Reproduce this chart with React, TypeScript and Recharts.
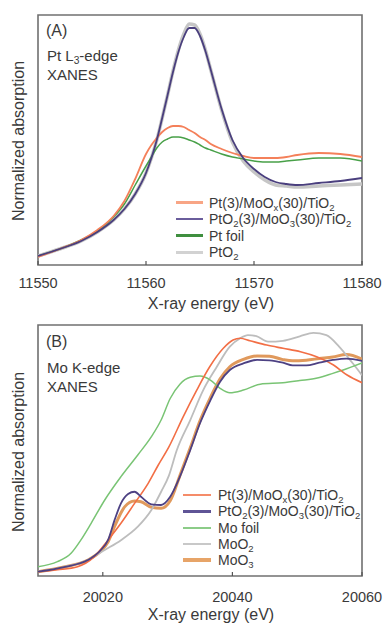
import React from 'react';
import { LineChart, Line, XAxis, YAxis, ReferenceArea } from 'recharts';

// ---------- Panel A: Pt L3-edge ----------
const energyA = [11550, 11552, 11554, 11555.5, 11557, 11558, 11559, 11560, 11560.5, 11561, 11561.5, 11562, 11562.5, 11563, 11563.5, 11564, 11564.5, 11565, 11565.5, 11566, 11567, 11568, 11569, 11570, 11571, 11572, 11573, 11574, 11576, 11578, 11580];
const ptMoOxA = [0.08, 0.16, 0.25, 0.35, 0.49, 0.64, 0.86, 1.11, 1.20, 1.27, 1.33, 1.37, 1.39, 1.39, 1.38, 1.35, 1.32, 1.28, 1.25, 1.21, 1.16, 1.12, 1.09, 1.07, 1.07, 1.07, 1.08, 1.10, 1.12, 1.11, 1.08];
const ptO2MoO3A = [0.09, 0.16, 0.24, 0.33, 0.45, 0.56, 0.71, 0.92, 1.07, 1.25, 1.47, 1.70, 1.93, 2.13, 2.28, 2.37, 2.37, 2.29, 2.14, 1.95, 1.56, 1.25, 1.07, 0.96, 0.88, 0.83, 0.81, 0.80, 0.82, 0.84, 0.87];
const ptFoilA = [0.09, 0.16, 0.25, 0.34, 0.48, 0.61, 0.80, 0.99, 1.08, 1.17, 1.23, 1.26, 1.28, 1.28, 1.27, 1.25, 1.23, 1.20, 1.17, 1.15, 1.11, 1.08, 1.06, 1.04, 1.03, 1.03, 1.04, 1.05, 1.07, 1.07, 1.04];
const ptO2RefA = [0.09, 0.16, 0.24, 0.33, 0.45, 0.56, 0.71, 0.92, 1.07, 1.25, 1.47, 1.70, 1.94, 2.15, 2.31, 2.41, 2.40, 2.31, 2.15, 1.95, 1.55, 1.23, 1.04, 0.93, 0.85, 0.80, 0.79, 0.78, 0.79, 0.80, 0.81];
const ticksA = [11550, 11560, 11570, 11580];
const legendA = ['Pt(3)/MoO_x(30)/TiO_2', 'PtO_2(3)/MoO_3(30)/TiO_2', 'Pt foil', 'PtO_2'];

// ---------- Panel B: Mo K-edge ----------
const moFoilE = [20010, 20013, 20015.1, 20016.6, 20018.2, 20020.3, 20022.8, 20025.4, 20027.5, 20029, 20030.4, 20031.9, 20033.5, 20035, 20036.6, 20038.1, 20039.6, 20041.7, 20044.3, 20047.8, 20050.4, 20053.1, 20055.5, 20057.1, 20060];
const moFoilMu = [0.052, 0.08, 0.127, 0.2, 0.294, 0.424, 0.554, 0.675, 0.777, 0.87, 0.99, 1.07, 1.108, 1.115, 1.093, 1.047, 1.022, 1.037, 1.07, 1.078, 1.09, 1.104, 1.13, 1.149, 1.188];
const ptMoOxE = [20010, 20013, 20016.1, 20018.7, 20020.8, 20022.8, 20024.9, 20027, 20028.5, 20030.2, 20032.4, 20034.5, 20036.5, 20038.6, 20040.1, 20041.2, 20042.7, 20045.3, 20047.8, 20050.5, 20053, 20055.6, 20057.7, 20060];
const ptMoOxMu = [0.024, 0.035, 0.052, 0.108, 0.2, 0.294, 0.405, 0.517, 0.615, 0.72, 0.888, 1.037, 1.167, 1.27, 1.316, 1.326, 1.312, 1.288, 1.27, 1.251, 1.223, 1.177, 1.121, 1.078];
const moO2E = [20010, 20014, 20017.7, 20020.3, 20022.8, 20025.4, 20027.5, 20029, 20030.2, 20031.4, 20033.5, 20035.5, 20037.6, 20039.6, 20041.2, 20042.4, 20043.7, 20045.5, 20047.8, 20050.4, 20052.5, 20054.5, 20056.5, 20058.6, 20060];
const moO2Mu = [0.024, 0.05, 0.089, 0.145, 0.2, 0.275, 0.368, 0.47, 0.56, 0.7, 0.87, 1.037, 1.167, 1.279, 1.326, 1.344, 1.338, 1.307, 1.312, 1.337, 1.356, 1.343, 1.278, 1.185, 1.12];
const ptO2MoO3E = [20010, 20014, 20017.7, 20019.7, 20020.8, 20021.8, 20022.8, 20023.9, 20024.9, 20025.9, 20027.5, 20029, 20030.4, 20031.9, 20033.5, 20035, 20036.6, 20038.1, 20039.6, 20041.7, 20043.8, 20045.7, 20047.8, 20049.3, 20051.4, 20053.4, 20055.5, 20057.6, 20060];
const ptO2MoO3Mu = [0.024, 0.05, 0.089, 0.145, 0.2, 0.31, 0.405, 0.457, 0.47, 0.442, 0.4, 0.396, 0.442, 0.554, 0.703, 0.852, 0.98, 1.084, 1.149, 1.186, 1.205, 1.203, 1.19, 1.175, 1.175, 1.19, 1.205, 1.213, 1.2];
const moO3E = [20010, 20014, 20017.7, 20019.7, 20020.8, 20021.8, 20023.4, 20024.9, 20025.9, 20027.5, 20029, 20030.4, 20031.9, 20033.5, 20035, 20036.6, 20038.1, 20039.6, 20041.7, 20043.8, 20045.7, 20047.8, 20049.3, 20051.4, 20053.4, 20055.5, 20057.6, 20060];
const moO3Mu = [0.024, 0.05, 0.089, 0.14, 0.19, 0.275, 0.387, 0.418, 0.414, 0.383, 0.378, 0.42, 0.56, 0.715, 0.865, 0.995, 1.1, 1.167, 1.208, 1.227, 1.226, 1.207, 1.2, 1.204, 1.213, 1.222, 1.235, 1.21];
const ticksB = [20020, 20040, 20060];
const legendB = ['Pt(3)/MoO_x(30)/TiO_2', 'PtO_2(3)/MoO_3(30)/TiO_2', 'Mo foil', 'MoO_2', 'MoO_3'];

const FONT = '"Liberation Sans", Arial, sans-serif';
const TEXT = '#3a3a3a';
const FRAME = '#707070';

const dataA = energyA.map((e, i) => ({
  e,
  ptMoOx: ptMoOxA[i],
  ptO2MoO3: ptO2MoO3A[i],
  ptFoil: ptFoilA[i],
  ptO2: ptO2RefA[i],
}));

const pairs = (xs: number[], ys: number[]) => xs.map((e, i) => ({ e, v: ys[i] }));

const withSub = (s: string) =>
  s.split(/(_\w)/).filter((p) => p.length > 0).map((p, i) =>
    p.startsWith('_') ? (
      <sub key={i} style={{ fontSize: '0.68em', verticalAlign: '-0.3em', lineHeight: 0 }}>{p.slice(1)}</sub>
    ) : (
      <span key={i}>{p}</span>
    )
  );

const Txt = ({ x, y, size, children, center }: any) => (
  <div
    style={{
      position: 'absolute',
      left: center ? x - 150 : x,
      width: center ? 300 : undefined,
      textAlign: center ? 'center' : 'left',
      top: y - size / 2,
      fontSize: size,
      lineHeight: `${size}px`,
      fontFamily: FONT,
      color: TEXT,
      whiteSpace: 'nowrap',
    }}
  >
    {children}
  </div>
);

const YTitle = ({ cx, cy }: any) => (
  <div
    style={{
      position: 'absolute',
      left: cx - 100,
      top: cy - 8,
      width: 200,
      height: 16,
      lineHeight: '16px',
      textAlign: 'center',
      fontSize: 16,
      fontFamily: FONT,
      color: TEXT,
      transform: 'rotate(-90deg)',
      whiteSpace: 'nowrap',
    }}
  >
    Normalized absorption
  </div>
);

const Legend = ({ items, colors, widths, x0, x1, tx, y0, dy }: any) => (
  <>
    {items.map((label: string, i: number) => (
      <React.Fragment key={label + i}>
        <div
          style={{
            position: 'absolute',
            left: x0,
            width: x1 - x0,
            top: y0 + i * dy - widths[i] / 2,
            height: widths[i],
            background: colors[i],
          }}
        />
        <div
          style={{
            position: 'absolute',
            left: tx,
            top: y0 + i * dy - 7,
            fontSize: 14,
            lineHeight: '14px',
            fontFamily: FONT,
            color: TEXT,
            whiteSpace: 'nowrap',
          }}
        >
          {withSub(label)}
        </div>
      </React.Fragment>
    ))}
  </>
);

const tickStyle = { fontSize: 14.5, fill: TEXT, fontFamily: FONT };

export default function App() {
  return (
    <div style={{ position: 'absolute', left: 0, top: 0, width: 384, height: 623, background: '#fff', overflow: 'hidden' }}>
      {/* Panel A */}
      <div style={{ position: 'absolute', left: 0, top: 0 }}>
        <LineChart width={384} height={316} data={dataA} margin={{ top: 15, right: 22, bottom: 21, left: 38 }}>
          <XAxis
            dataKey="e"
            type="number"
            domain={[11550, 11580]}
            ticks={ticksA}
            allowDataOverflow
            height={30}
            axisLine={false}
            tickSize={-4}
            tickMargin={17}
            tickLine={{ stroke: '#555', strokeWidth: 1.2 }}
            tick={tickStyle}
            interval={0}
          />
          <YAxis hide type="number" domain={[0, 2.5]} allowDataOverflow />
          <Line type="monotone" dataKey="ptO2" stroke="#c6c6c6" strokeWidth={3.5} dot={false} isAnimationActive={false} />
          <Line type="monotone" dataKey="ptFoil" stroke="#48a048" strokeWidth={1.5} dot={false} isAnimationActive={false} />
          <Line type="monotone" dataKey="ptMoOx" stroke="#f4805a" strokeWidth={1.8} dot={false} isAnimationActive={false} />
          <Line type="monotone" dataKey="ptO2MoO3" stroke="#4a3f7e" strokeWidth={1.8} dot={false} isAnimationActive={false} />
          <ReferenceArea x1={11550} x2={11580} y1={0} y2={2.5} fill="none" stroke={FRAME} strokeWidth={1.6} ifOverflow="visible" />
        </LineChart>
      </div>

      {/* Panel B */}
      <div style={{ position: 'absolute', left: 0, top: 316 }}>
        <LineChart width={384} height={307} margin={{ top: 9, right: 22, bottom: 17, left: 38 }}>
          <XAxis
            dataKey="e"
            type="number"
            domain={[20010, 20060]}
            ticks={ticksB}
            allowDataOverflow
            height={30}
            axisLine={false}
            tickSize={-4}
            tickMargin={20}
            tickLine={{ stroke: '#555', strokeWidth: 1.2 }}
            tick={tickStyle}
            interval={0}
          />
          <YAxis hide type="number" domain={[0, 1.4]} allowDataOverflow />
          <Line data={pairs(moO3E, moO3Mu)} dataKey="v" type="monotone" stroke="#e0995c" strokeWidth={3} dot={false} isAnimationActive={false} />
          <Line data={pairs(moO2E, moO2Mu)} dataKey="v" type="monotone" stroke="#bdbdbd" strokeWidth={1.8} dot={false} isAnimationActive={false} />
          <Line data={pairs(moFoilE, moFoilMu)} dataKey="v" type="monotone" stroke="#79c474" strokeWidth={1.5} dot={false} isAnimationActive={false} />
          <Line data={pairs(ptMoOxE, ptMoOxMu)} dataKey="v" type="monotone" stroke="#f26e45" strokeWidth={1.6} dot={false} isAnimationActive={false} />
          <Line data={pairs(ptO2MoO3E, ptO2MoO3Mu)} dataKey="v" type="monotone" stroke="#4d4183" strokeWidth={1.8} dot={false} isAnimationActive={false} />
          <ReferenceArea x1={20010} x2={20060} y1={0} y2={1.4} fill="none" stroke={FRAME} strokeWidth={1.6} ifOverflow="visible" />
        </LineChart>
      </div>

      {/* Annotations A */}
      <Txt x={46} y={31} size={16}>(A)</Txt>
      <Txt x={47} y={55} size={15}>{withSub('Pt L_3-edge')}</Txt>
      <Txt x={47} y={74.5} size={15}>XANES</Txt>
      <YTitle cx={19} cy={141} />
      <Txt x={211} y={304} size={16} center>X-ray energy (eV)</Txt>
      <Legend
        items={legendA}
        colors={['#f8a585', '#6a5d9c', '#3f8f3f', '#d2d2d2']}
        widths={[2.5, 2.5, 2.5, 3]}
        x0={176}
        x1={203}
        tx={209}
        y0={202.5}
        dy={16.5}
      />

      {/* Annotations B */}
      <Txt x={46} y={342} size={16}>(B)</Txt>
      <Txt x={47} y={367} size={15}>Mo K-edge</Txt>
      <Txt x={47} y={386} size={15}>XANES</Txt>
      <YTitle cx={19} cy={452} />
      <Txt x={211} y={615} size={16} center>X-ray energy (eV)</Txt>
      <Legend
        items={legendB}
        colors={['#f58c69', '#5f5496', '#8ccc88', '#c8c8c8', '#e7a468']}
        widths={[2.2, 2.5, 2.2, 2.5, 3.5]}
        x0={183}
        x1={211}
        tx={218}
        y0={495}
        dy={16.3}
      />
    </div>
  );
}
